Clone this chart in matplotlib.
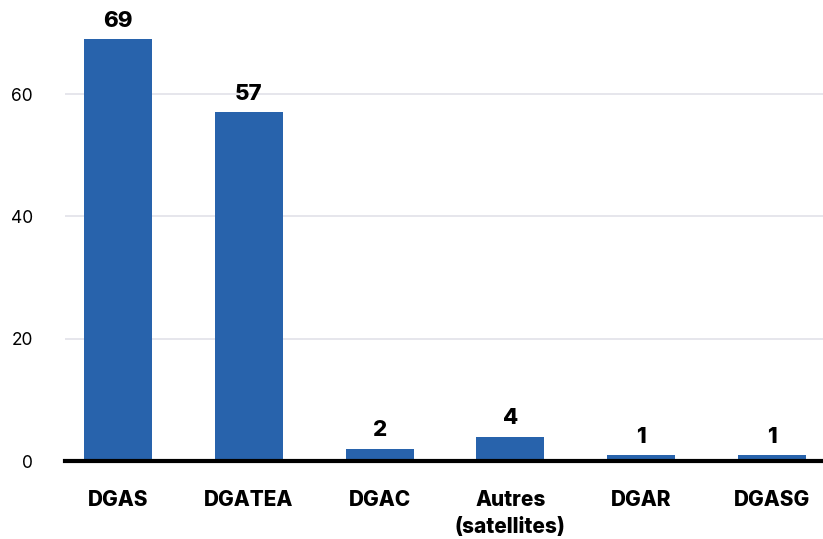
import matplotlib.pyplot as plt

categories = ["DGAS", "DGATEA", "DGAC", "Autres\n(satellites)", "DGAR", "DGASG"]
values = [69, 57, 2, 4, 1, 1]
y_ticks = [0, 20, 40, 60]

bar_color = "#2863ac"

plt.rcParams["font.family"] = ["Inter", "DejaVu Sans"]

fig = plt.figure(figsize=(8.23, 5.39), dpi=100)
ax = fig.add_axes([65 / 823, 78 / 539, 1 - 65 / 823, (461 - 39) / 539])

x = list(range(len(categories)))
ax.bar(x, values, width=0.52, color=bar_color, zorder=2)

for xi, v in zip(x, values):
    ax.annotate(str(v), (xi, v), xytext=(0, 6), textcoords="offset points",
                ha="center", va="bottom", fontsize=16, fontweight="heavy")

ax.set_xlim(-0.405, 5.39)
ax.set_ylim(0, 69)
ax.set_xticks(x)
ax.set_xticklabels(categories, fontsize=15, fontweight="heavy", linespacing=1.4)
ax.set_yticks(y_ticks)
ax.set_yticklabels([str(t) for t in y_ticks], fontsize=12.5)
ax.tick_params(axis="x", length=0, pad=21)
ax.tick_params(axis="y", length=0, pad=23)

ax.grid(axis="y", color="#e4e4ea", linewidth=1.3, zorder=0)
for s in ["top", "right", "left"]:
    ax.spines[s].set_visible(False)
ax.spines["bottom"].set_linewidth(3)
ax.spines["bottom"].set_color("black")
ax.spines["bottom"].set_zorder(3)

fig.savefig("out.png", dpi=100)
